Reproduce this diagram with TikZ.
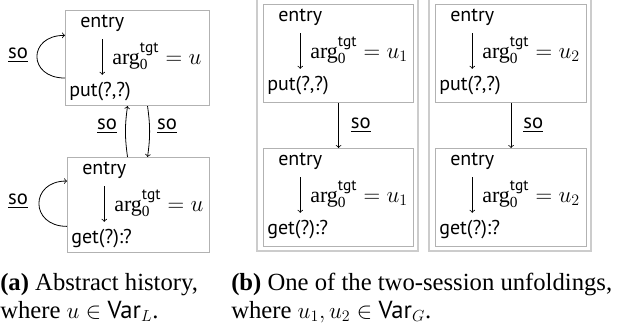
\documentclass[tikz,border=0pt]{standalone}
\usepackage{fontspec}
\usepackage{amsmath}
\setmainfont{Liberation Serif}
\setsansfont{PT Sans}
\usetikzlibrary{calc}
\newcommand\evbox[7]{%
  \node[evframe, anchor=north west, minimum width=#4*0.75pt, minimum height=#5*0.75pt] (#1) at (#2,#3) {};
  \node[lbl] (#1e) at ($(#1.north west)+(15,17)$) {entry};
  \node[lbl] (#1p) at ($(#1.north west)+(4,86)$) {#7};
  \node[lbl, font=\fontsize{16.5}{19}\selectfont] (#1a) at ($(#1.north west)+(47,54)$) {$\textrm{arg}_{\textrm{0}}^{\textsf{tgt}} = #6$};
  \draw[conn, shorten <=6pt, shorten >=5pt] (#1e.south) -- (#1e.south |- #1p.north);
}
\begin{document}
\begin{tikzpicture}[x=0.75pt,y=-0.75pt,
  evframe/.style={draw=black!30, line width=0.8pt, inner sep=0pt},
  outerframe/.style={draw=black!20, line width=1.5pt},
  lbl/.style={inner sep=0pt, anchor=base west, font=\sffamily\fontsize{15}{18}\selectfont},
  solbl/.style={inner sep=0pt, font=\sffamily\fontsize{15.5}{18}\selectfont},
  captxt/.style={inner sep=0pt, anchor=base west, align=left, font=\fontsize{18.5}{21}\selectfont},
  conn/.style={->, line width=0.6pt},
  >=to]
\useasboundingbox (0,0) rectangle (620,329);
% (a) abstract history
\evbox{b1}{65}{10}{144}{95}{u}{put(?,?)}
\evbox{b2}{67}{157}{142}{95}{u}{get(?):?}
\draw[conn] ([xshift=-8.25pt]b2.north) to[bend left=8] ([xshift=-7.5pt]b1.south);
\draw[conn] ([xshift=7.5pt]b1.south) to[bend left=8] ([xshift=6.75pt]b2.north);
\node[solbl] (s12) at (107,126) {\underline{so}};
\node[solbl] (s21) at (167,126) {\underline{so}};
\coordinate (l1a) at ([yshift=-15pt]b1.west);
\coordinate (l1b) at ([yshift=17pt]b1.west);
\draw[conn] (l1a) .. controls ([xshift=-28pt]l1a) and ([xshift=-28pt]l1b) .. (l1b);
\node[solbl] (s11) at (18,55) {\underline{so}};
\coordinate (l2a) at ([yshift=-16pt]b2.west);
\coordinate (l2b) at ([yshift=18pt]b2.west);
\draw[conn] (l2a) .. controls ([xshift=-28pt]l2a) and ([xshift=-28pt]l2b) .. (l2b);
\node[solbl] (s22) at (18,201) {\underline{so}};
% (b) unfolding
\draw[outerframe] (257,-3) rectangle (418,251);
\draw[outerframe] (429,-3) rectangle (591,251);
\evbox{c1}{263}{4}{150}{98}{u_1}{put(?,?)}
\evbox{c2}{263}{148}{150}{98}{u_1}{get(?):?}
\evbox{d1}{435}{4}{151}{98}{u_2}{put(?,?)}
\evbox{d2}{435}{148}{151}{98}{u_2}{get(?):?}
\draw[conn] (c1.south) -- (c2.north) node[solbl, midway, right=9pt] (sc) {\underline{so}};
\draw[conn] (d1.south) -- (d2.north) node[solbl, midway, right=9pt] (sd) {\underline{so}};
% captions
\node[captxt] (capa) at (0,318) {\textbf{(a)} Abstract history,\\ where $u \in \textsf{Var}_L$.};
\node[captxt] (capb) at (231,318) {\textbf{(b)} One of the two-session unfoldings,\\ where $u_1, u_2 \in \textsf{Var}_G$.};
\end{tikzpicture}
\end{document}
